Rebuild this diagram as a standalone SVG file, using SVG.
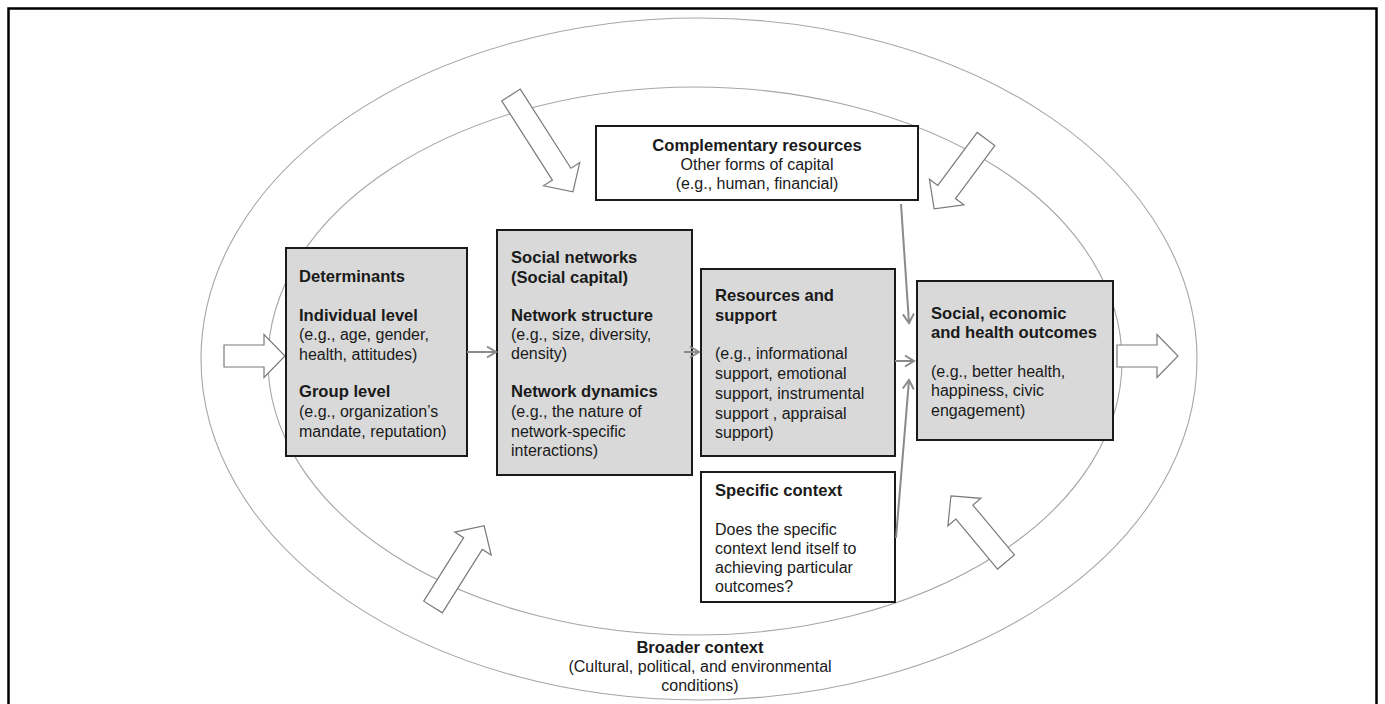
<svg xmlns="http://www.w3.org/2000/svg" width="1385" height="704" viewBox="0 0 1385 704">
<style>
text{font-family:"Liberation Sans",Arial,sans-serif;font-size:16px;fill:#1a1a1a}
.b{font-weight:bold;font-size:16.6px}
.mid{text-anchor:middle}
.box{stroke:#1a1a1a;stroke-width:2}
.grey{fill:#d9d9d9}
.white{fill:#ffffff}
.ell{fill:none;stroke:#a6a6a6;stroke-width:1.1}
.blk{fill:#ffffff;stroke:#7a7a7a;stroke-width:1.2;stroke-linejoin:miter}
.con{fill:none;stroke:#8a8a8a;stroke-width:2;marker-end:url(#ah)}
</style>
<defs>
<marker id="ah" markerUnits="userSpaceOnUse" markerWidth="16" markerHeight="16" viewBox="-13 -8 16 16" refX="0" refY="0" orient="auto">
<path d="M-9,-5.5 L0,0 L-9,5.5" fill="none" stroke="#8a8a8a" stroke-width="2"/>
</marker>
</defs>
<rect x="0" y="0" width="1385" height="704" fill="#ffffff"/>
<rect id="frame" x="8.5" y="8.5" width="1368" height="720" fill="none" stroke="#000" stroke-width="2.5"/>

<g id="broader-context">
<ellipse class="ell" cx="699" cy="359" rx="498" ry="341"/>
<ellipse class="ell" cx="695" cy="361" rx="427" ry="274"/>
<text class="b mid" x="700" y="653">Broader context</text>
<text class="mid" x="700" y="672">(Cultural, political, and environmental</text>
<text class="mid" x="700" y="691">conditions)</text>
</g>

<g id="influence-arrows">
<path class="blk" transform="translate(224,356)" d="M0,-11 H40 V-21.5 L61,0 L40,21.5 V11 H0 Z"/>
<path class="blk" transform="translate(1117,356)" d="M0,-11 H40 V-21.5 L61,0 L40,21.5 V11 H0 Z"/>
<path class="blk" transform="translate(511,95) rotate(57.4)" d="M0,-11 H94 V-21.5 L115,0 L94,21.5 V11 H0 Z"/>
<path class="blk" transform="translate(986,139) rotate(126.6)" d="M0,-11 H66 V-21.5 L87,0 L66,21.5 V11 H0 Z"/>
<path class="blk" transform="translate(433,607) rotate(-57.8)" d="M0,-11 H75 V-21.5 L96,0 L75,21.5 V11 H0 Z"/>
<path class="blk" transform="translate(1006,562) rotate(-129.8)" d="M0,-11 H65 V-21.5 L86,0 L65,21.5 V11 H0 Z"/>
</g>

<g id="complementary-resources">
<rect class="box white" x="596" y="126" width="322" height="74"/>
<text class="b mid" x="757" y="151">Complementary resources</text>
<text class="mid" x="757" y="170">Other forms of capital</text>
<text class="mid" x="757" y="189">(e.g., human, financial)</text>
</g>

<g id="determinants">
<rect class="box grey" x="286" y="248" width="181" height="208"/>
<text class="b" x="299" y="282">Determinants</text>
<text class="b" x="299" y="321">Individual level</text>
<text x="299" y="340">(e.g., age, gender,</text>
<text x="299" y="360">health, attitudes)</text>
<text class="b" x="299" y="397">Group level</text>
<text x="299" y="417">(e.g., organization’s</text>
<text x="299" y="437">mandate, reputation)</text>
</g>

<g id="social-networks">
<rect class="box grey" x="497" y="230" width="195" height="245"/>
<text class="b" x="511" y="263">Social networks</text>
<text class="b" x="511" y="283">(Social capital)</text>
<text class="b" x="511" y="321">Network structure</text>
<text x="511" y="340">(e.g., size, diversity,</text>
<text x="511" y="359">density)</text>
<text class="b" x="511" y="397">Network dynamics</text>
<text x="511" y="417">(e.g., the nature of</text>
<text x="511" y="437">network-specific</text>
<text x="511" y="456">interactions)</text>
</g>

<g id="resources-support">
<rect class="box grey" x="701" y="269" width="194" height="187"/>
<text class="b" x="715" y="301">Resources and</text>
<text class="b" x="715" y="321">support</text>
<text x="715" y="359">(e.g., informational</text>
<text x="715" y="379">support, emotional</text>
<text x="715" y="399">support, instrumental</text>
<text x="715" y="419">support , appraisal</text>
<text x="715" y="438">support)</text>
</g>

<g id="outcomes">
<rect class="box grey" x="917" y="281" width="196" height="159"/>
<text class="b" x="931" y="319">Social, economic</text>
<text class="b" x="931" y="338">and health outcomes</text>
<text x="931" y="377">(e.g., better health,</text>
<text x="931" y="396">happiness, civic</text>
<text x="931" y="416">engagement)</text>
</g>

<g id="specific-context">
<rect class="box white" x="701" y="472" width="194" height="130"/>
<text class="b" x="715" y="496">Specific context</text>
<text x="715" y="535">Does the specific</text>
<text x="715" y="554">context lend itself to</text>
<text x="715" y="573">achieving particular</text>
<text x="715" y="592">outcomes?</text>
</g>

<g id="connectors">
<line class="con" x1="467" y1="352" x2="496" y2="352"/>
<line class="con" x1="684" y1="352" x2="699" y2="352"/>
<line class="con" x1="895" y1="361" x2="914" y2="361"/>
<line class="con" x1="901" y1="204" x2="909" y2="323"/>
<line class="con" x1="896" y1="538" x2="909" y2="380"/>
</g>
</svg>
